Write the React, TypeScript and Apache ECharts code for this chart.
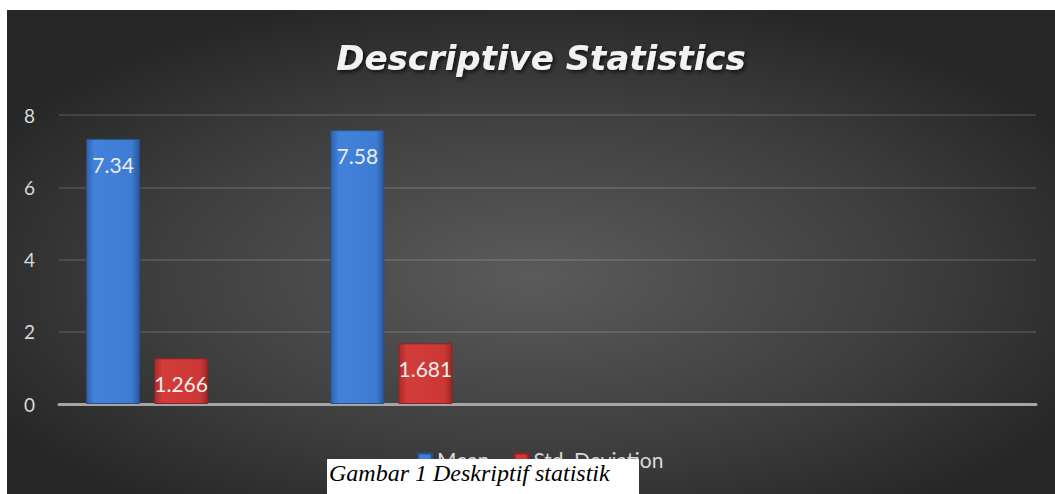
import React, { useEffect, useRef } from "react";
import * as echarts from "echarts";

const categories = ["A", "B", "C", "D"];
const meanValues: (number | string)[] = [7.34, 7.58, "-", "-"];
const stdValues: (number | string)[] = [1.266, 1.681, "-", "-"];
const thirdValues: (number | string)[] = ["-", "-", "-", "-"];
const yTicks = { min: 0, max: 8, interval: 2 };
const titleText = "Descriptive Statistics";
const captionText = "Gambar 1 Deskriptif statistik";

export default function App() {
  const ref = useRef<HTMLDivElement>(null);
  useEffect(() => {
    if (!ref.current) return;
    const chart = echarts.init(ref.current, null, { renderer: "svg" });
    const blue = new echarts.graphic.LinearGradient(0, 0, 1, 0, [
      { offset: 0, color: "#2f62ad" },
      { offset: 0.15, color: "#4282da" },
      { offset: 0.85, color: "#3d7cd3" },
      { offset: 1, color: "#2a5799" },
    ]);
    const red = new echarts.graphic.LinearGradient(0, 0, 1, 0, [
      { offset: 0, color: "#a92b2b" },
      { offset: 0.15, color: "#d23c3a" },
      { offset: 0.85, color: "#cc3836" },
      { offset: 1, color: "#9c2828" },
    ]);
    const labelStyle = {
      show: true,
      position: "insideTop" as const,
      distance: 15,
      color: "#ececec",
      fontSize: 21,
      fontFamily: "Lato",
    };
    chart.setOption({
      animation: false,
      backgroundColor: "transparent",
      graphic: [
        {
          type: "rect",
          z: -10,
          silent: true,
          shape: { x: 7, y: 10, width: 1048, height: 484 },
          style: {
            fill: new echarts.graphic.RadialGradient(0.5, 0.55, 0.6, [
              { offset: 0, color: "#5b5b5b" },
              { offset: 0.6, color: "#3e3e3e" },
              { offset: 1, color: "#262626" },
            ]),
          },
        },
        {
          type: "rect",
          z: 100,
          shape: { x: 327, y: 459, width: 312, height: 35 },
          style: { fill: "#ffffff" },
        },
        {
          type: "text",
          z: 101,
          x: 329,
          y: 461,
          style: {
            text: captionText,
            fill: "#000000",
            font: "italic 24px 'Liberation Serif', 'DejaVu Serif', serif",
          },
        },
      ],
      title: {
        text: titleText,
        left: 536,
        textAlign: "center",
        top: 36,
        textStyle: {
          color: "#f2f2f2",
          fontFamily: "DejaVu Sans",
          fontStyle: "italic",
          fontWeight: "bold",
          fontSize: 34,
          textShadowColor: "rgba(0,0,0,0.7)",
          textShadowBlur: 4,
          textShadowOffsetX: 2,
          textShadowOffsetY: 2,
        },
      },
      legend: {
        data: ["Mean", "Std. Deviation"],
        left: 412,
        top: 444,
        itemWidth: 14,
        itemHeight: 12,
        itemGap: 24,
        icon: "rect",
        textStyle: { color: "#d9d9d9", fontSize: 21, fontFamily: "Lato" },
      },
      grid: { left: 59, right: 19, top: 115, bottom: 90 },
      xAxis: {
        type: "category",
        data: categories,
        axisLine: { lineStyle: { color: "#a6a6a6", width: 3 } },
        axisTick: { show: false },
        axisLabel: { show: false },
      },
      yAxis: {
        type: "value",
        min: yTicks.min,
        max: yTicks.max,
        interval: yTicks.interval,
        axisLine: { show: false },
        axisTick: { show: false },
        axisLabel: { color: "#d9d9d9", fontSize: 19, fontFamily: "Lato", margin: 24 },
        splitLine: { lineStyle: { color: "rgba(255,255,255,0.16)", width: 1.5 } },
      },
      series: [
        {
          name: "Mean",
          type: "bar",
          data: meanValues,
          barWidth: 54,
          barGap: "26%",
          itemStyle: { color: blue, borderColor: "#2a5088", borderWidth: 1 },
          label: labelStyle,
        },
        {
          name: "Std. Deviation",
          type: "bar",
          data: stdValues,
          barWidth: 54,
          barGap: "26%",
          itemStyle: { color: red, borderColor: "#8a2424", borderWidth: 1 },
          label: labelStyle,
        },
        {
          name: "Series3",
          type: "bar",
          data: thirdValues,
          barWidth: 54,
          barGap: "26%",
        },
      ],
    });
    return () => chart.dispose();
  }, []);
  return (
    <div
      style={{ position: "fixed", left: 0, top: 0, width: 1055, height: 494, background: "#ffffff" }}
    >
      <div ref={ref} style={{ width: 1055, height: 494 }} />
    </div>
  );
}
